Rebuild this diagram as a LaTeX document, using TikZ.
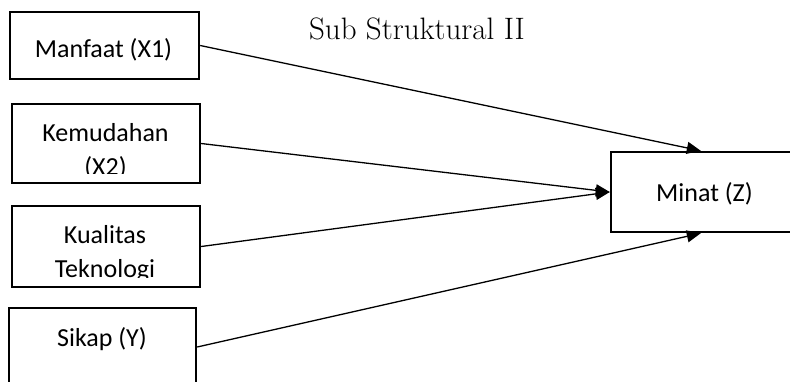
\documentclass[tikz,border=0pt]{standalone}
\usepackage{fontspec}
\newfontfamily\boxfont{Carlito}
\usetikzlibrary{arrows.meta}
\begin{document}
\begin{tikzpicture}[x=1pt,y=-1pt,
  box/.style={draw, line width=2.4pt, inner sep=0pt},
  lbl/.style={font=\boxfont\fontsize{26}{32}\selectfont, anchor=base, inner sep=0pt},
  ttl/.style={font=\fontsize{31}{36}\selectfont, anchor=base, inner sep=0pt},
  conn/.style={line width=1.3pt, -{Triangle[length=14pt,width=12pt]}}]
\useasboundingbox (0,0) rectangle (790,381);
\clip (0,0) rectangle (790,381);
% boxes
\node[box, minimum width=189pt, minimum height=67pt] (x1) at (104.5,45.5) {};
\node[box, minimum width=188pt, minimum height=79pt] (x2) at (106,143.5) {};
\node[box, minimum width=188pt, minimum height=81pt] (x3) at (106,246.5) {};
\node[box, minimum width=187pt, minimum height=78pt] (y) at (102.5,347) {};
\node[box, minimum width=189pt, minimum height=80pt] (z) at (705.5,192) {};
% title
\node[ttl] (title) at (417,39) {Sub Struktural II};
% labels
\node[lbl] (t1) at (103.5,57) {Manfaat (X1)};
\begin{scope}
  \clip (12,104) rectangle (200,173.3);
  \node[lbl] (t2a) at (105.5,141.7) {Kemudahan};
  \node[lbl] (t2b) at (105.5,175.5) {(X2)};
\end{scope}
\begin{scope}
  \clip (12,206) rectangle (200,277.3);
  \node[lbl] (t3a) at (105,243.3) {Kualitas};
  \node[lbl] (t3b) at (105,277) {Teknologi};
\end{scope}
\node[lbl] (t4) at (102,346.7) {Sikap (Y)};
\node[lbl] (t5) at (704.5,201.7) {Minat (Z)};
% connector endpoints
\coordinate (zt) at ([xshift=91pt]z.north west);
\coordinate (zb) at ([xshift=91pt]z.south west);
% connectors
\draw[conn] (x1.east) -- (zt);
\draw[conn] (x2.east) -- (z.west);
\draw[conn] (x3.east) -- (z.west);
\draw[conn] (y.east) -- (zb);
\end{tikzpicture}
\end{document}
